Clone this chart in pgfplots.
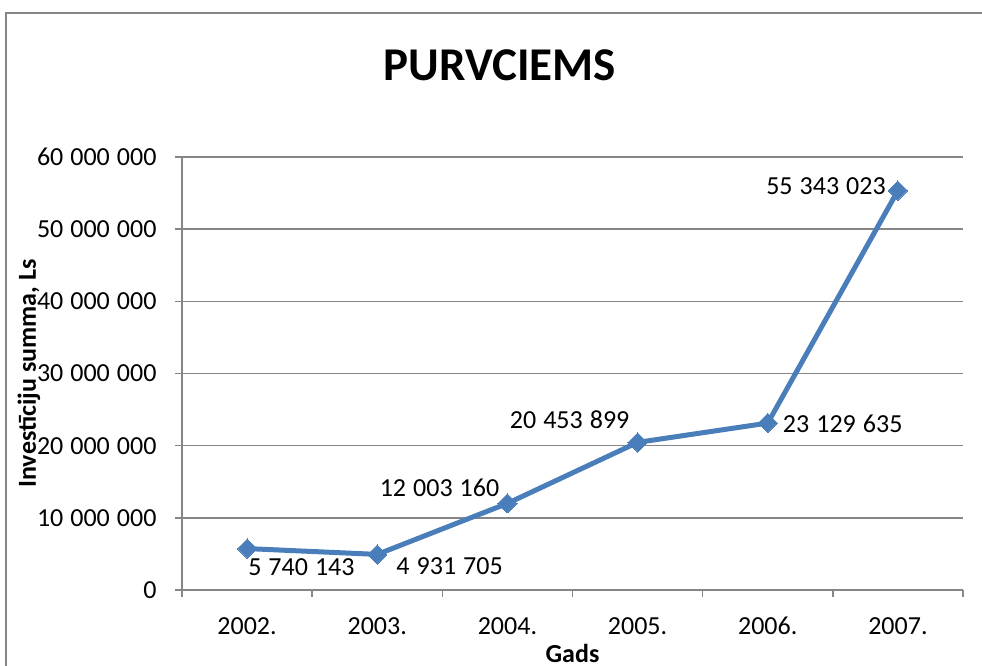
\documentclass[border=0pt]{standalone}
\usepackage{pgfplots}
\pgfplotsset{compat=1.18}
\usepackage{pgfplotstable}
\usepackage{fontspec}
\setmainfont{Carlito}
\definecolor{lineblue}{HTML}{4A7EBB}
\definecolor{gridgray}{HTML}{868686}
\newcommand{\ts}{\kern0.27em}
\pgfplotstableread{
x y
0 5740143
1 4931705
2 12003160
3 20453899
4 23129635
5 55343023
}\datatable
\pgfplotsset{lbl/.style n args={4}{draw=none, mark=none, forget plot,
  nodes near coords={#1},
  nodes near coords style={anchor=#2, xshift=#3, yshift=#4, font=\fontsize{26}{30}\selectfont, text=black, inner sep=0pt}}}
\begin{document}
\begin{tikzpicture}
\begin{axis}[
  scale only axis, width=781pt, height=433pt,
  xmin=-0.5, xmax=5.5, ymin=0, ymax=60000000,
  clip=false,
  axis x line*=bottom, axis y line*=left,
  axis line style={gridgray, line width=1.4pt, -},
  xtick={0,1,2,3,4,5},
  xticklabels={2002.,2003.,2004.,2005.,2006.,2007.},
  minor xtick={-0.5,0.5,1.5,2.5,3.5,4.5,5.5},
  ytick={0,10000000,20000000,30000000,40000000,50000000,60000000},
  yticklabels={0,10\ts000\ts000,20\ts000\ts000,30\ts000\ts000,40\ts000\ts000,50\ts000\ts000,60\ts000\ts000},
  scaled y ticks=false,
  ymajorgrids,
  grid style={gridgray, line width=1.4pt},
  tick align=outside,
  major tick length=7pt, minor tick length=7pt,
  tick style={gridgray, line width=1.4pt},
  major x tick style={draw=none},
  tick label style={font=\fontsize{26}{30}\selectfont, text=black},
  xticklabel style={yshift=-17pt, text height=17pt, text depth=0pt},
  yticklabel style={xshift=-15pt},
  title={PURVCIEMS},
  every axis title/.style={at={(axis description cs:0.4072,1.2125)}, anchor=center, font=\fontsize{47}{54}\selectfont\bfseries},
  xlabel={Gads},
  every axis x label/.style={at={(axis description cs:0.5,0)}, yshift=-63pt, anchor=center, font=\fontsize{26}{30}\selectfont\bfseries},
  ylabel={Investīciju summa, Ls},
  every axis y label/.style={at={(axis description cs:-0.1959,0.5)}, rotate=90, anchor=center, font=\fontsize{26}{30}\selectfont\bfseries},
]
\addplot[lineblue, line width=5pt, line join=round,
  mark=square*, mark size=6.8pt,
  mark options={rotate=45, solid, fill=lineblue, line width=0pt}
] table[x=x, y=y]{\datatable};
\addplot[lbl={5\ts740\ts143}{west}{1pt}{-19pt}] coordinates {(0,5740143)};
\addplot[lbl={4\ts931\ts705}{west}{19pt}{-12pt}] coordinates {(1,4931705)};
\addplot[lbl={12\ts003\ts160}{east}{-8pt}{16pt}] coordinates {(2,12003160)};
\addplot[lbl={20\ts453\ts899}{east}{-8pt}{23pt}] coordinates {(3,20453899)};
\addplot[lbl={23\ts129\ts635}{west}{15pt}{-1pt}] coordinates {(4,23129635)};
\addplot[lbl={55\ts343\ts023}{east}{-12pt}{4pt}] coordinates {(5,55343023)};
\end{axis}
\pgfresetboundingbox
\useasboundingbox (-182pt,-76pt) rectangle (800pt,590pt);
\begin{scope}
\clip (-182pt,-76pt) rectangle (800pt,590pt);
\draw[gridgray, line width=2pt] (-176pt,-200pt) rectangle (1000pt,577pt);
\end{scope}
\end{tikzpicture}
\end{document}
